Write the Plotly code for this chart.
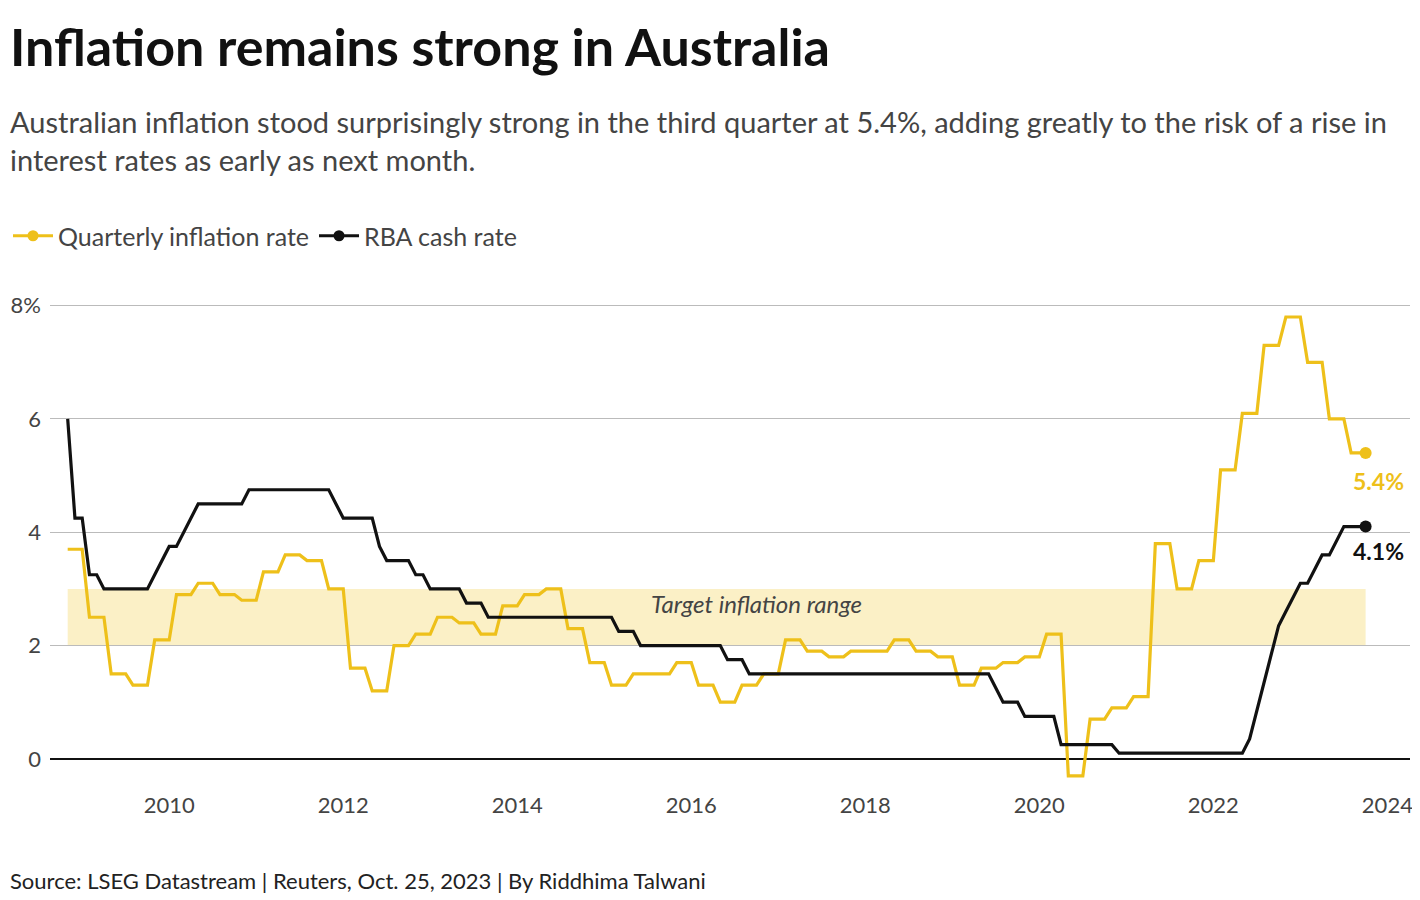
import plotly.graph_objects as go

# Quarterly CPI inflation (y/y %), 2008Q4 .. 2023Q3
cpi_quarterly = [3.7, 2.5, 1.5, 1.3, 2.1, 2.9, 3.1, 2.9, 2.8, 3.3, 3.6, 3.5, 3.0, 1.6, 1.2, 2.0,
                 2.2, 2.5, 2.4, 2.2, 2.7, 2.9, 3.0, 2.3, 1.7, 1.3, 1.5, 1.5, 1.7, 1.3, 1.0, 1.3,
                 1.5, 2.1, 1.9, 1.8, 1.9, 1.9, 2.1, 1.9, 1.8, 1.3, 1.6, 1.7, 1.8, 2.2, -0.3, 0.7,
                 0.9, 1.1, 3.8, 3.0, 3.5, 5.1, 6.1, 7.3, 7.8, 7.0, 6.0, 5.4]
# RBA cash rate as (value, number of months) runs starting Nov 2008
rba_runs = [(6.0, 1), (4.25, 2), (3.25, 2), (3.0, 7), (3.25, 1), (3.5, 1), (3.75, 2), (4.0, 1),
            (4.25, 1), (4.5, 7), (4.75, 12), (4.5, 1), (4.25, 5), (3.75, 1), (3.5, 4), (3.25, 2),
            (3.0, 5), (2.75, 3), (2.5, 18), (2.25, 3), (2.0, 12), (1.75, 3), (1.5, 34), (1.25, 1),
            (1.0, 3), (0.75, 5), (0.25, 8), (0.1, 18), (0.35, 1), (0.85, 1), (1.35, 1), (1.85, 1),
            (2.35, 1), (2.6, 1), (2.85, 1), (3.1, 2), (3.35, 1), (3.6, 2), (3.85, 1), (4.1, 4)]
start_year = 2008 + 10 / 12  # Nov 2008
target_low, target_high = 2, 3
year_ticks = [2010, 2012, 2014, 2016, 2018, 2020, 2022, 2024]

cpi = [v for v in cpi_quarterly for _ in range(3)]
rba = [v for v, n in rba_runs for _ in range(n)]
xm = [start_year + i / 12 for i in range(len(cpi))]
xr = [start_year + i / 12 for i in range(len(rba))]

YEL = "#EEC01A"
FONT = "Lato"
L = 42  # left margin
TX = -L / 1360
fig = go.Figure()
fig.add_shape(type="rect", x0=xm[0], x1=xm[-1], y0=target_low, y1=target_high,
              fillcolor="#FBF0C6", line_width=0, layer="below")
fig.add_trace(go.Scatter(x=xm, y=cpi, mode="lines", line=dict(color=YEL, width=3.2), showlegend=False))
fig.add_trace(go.Scatter(x=xr, y=rba, mode="lines", line=dict(color="#111", width=3.2), showlegend=False))
fig.add_trace(go.Scatter(x=[xm[-1]], y=[cpi[-1]], mode="markers", marker=dict(color=YEL, size=12), showlegend=False))
fig.add_trace(go.Scatter(x=[xr[-1]], y=[rba[-1]], mode="markers", marker=dict(color="#111", size=12), showlegend=False))
fig.add_trace(go.Scatter(x=[None], y=[None], mode="lines+markers", name="Quarterly inflation rate",
                         line=dict(color=YEL, width=3.2), marker=dict(size=11)))
fig.add_trace(go.Scatter(x=[None], y=[None], mode="lines+markers", name="RBA cash rate",
                         line=dict(color="#111", width=3.2), marker=dict(size=11)))

fig.add_annotation(x=2016.75, y=2.75, text="<i>Target inflation range</i>", showarrow=False,
                   font=dict(size=24, color="#444", family=FONT))
fig.add_annotation(x=xm[-1] - 0.17, y=cpi[-1], text=f"<b>{cpi[-1]}%</b>", showarrow=False, xanchor="left",
                   yshift=-28, font=dict(size=23, color=YEL, family=FONT))
fig.add_annotation(x=xr[-1] - 0.17, y=rba[-1], text=f"<b>{rba[-1]}%</b>", showarrow=False, xanchor="left",
                   yshift=-24, font=dict(size=23, color="#111", family=FONT))

fig.add_annotation(xref="paper", yref="paper", x=TX, y=1 + 254/490, xanchor="left", yanchor="middle",
                   text="<b>Inflation remains strong in Australia</b>", showarrow=False,
                   font=dict(size=52, color="#111", family=FONT))
fig.add_annotation(xref="paper", yref="paper", x=TX, y=1 + 160/490, xanchor="left", yanchor="middle",
                   align="left", showarrow=False,
                   text="Australian inflation stood surprisingly strong in the third quarter at 5.4%, adding greatly to the risk of a rise in<br>interest rates as early as next month.",
                   font=dict(size=29, color="#444", family=FONT))
fig.add_annotation(xref="paper", yref="paper", x=TX, y=-90/490, xanchor="left", yanchor="middle",
                   text="Source: LSEG Datastream | Reuters, Oct. 25, 2023 | By Riddhima Talwani", showarrow=False,
                   font=dict(size=22, color="#222", family=FONT))

fig.update_layout(
    width=1412, height=892, margin=dict(l=L, r=10, t=292, b=110, autoexpand=False),
    plot_bgcolor="white", paper_bgcolor="white", font=dict(family=FONT, color="#444"),
    legend=dict(orientation="h", x=TX, y=1 + 64/490, xanchor="left", yanchor="middle",
                font=dict(size=25, color="#444", family=FONT), itemwidth=40),
    xaxis=dict(range=[2008.63, 2024.26], tickvals=year_ticks, ticktext=[str(t) for t in year_ticks],
               showgrid=False, zeroline=False, showline=False, tickfont=dict(size=22, color="#444"),
               ticks="", automargin=False),
    yaxis=dict(range=[-0.55, 8.1], tickvals=[0, 2, 4, 6, 8], ticktext=["0", "2", "4", "6", "8%"],
               showgrid=True, gridcolor="#bbb", gridwidth=1, zeroline=True, zerolinecolor="#111",
               zerolinewidth=1.5, tickfont=dict(size=22, color="#444"), ticklabelposition="outside",
               ticklabelstandoff=8, automargin=False),
)
fig.write_html("out.html")
